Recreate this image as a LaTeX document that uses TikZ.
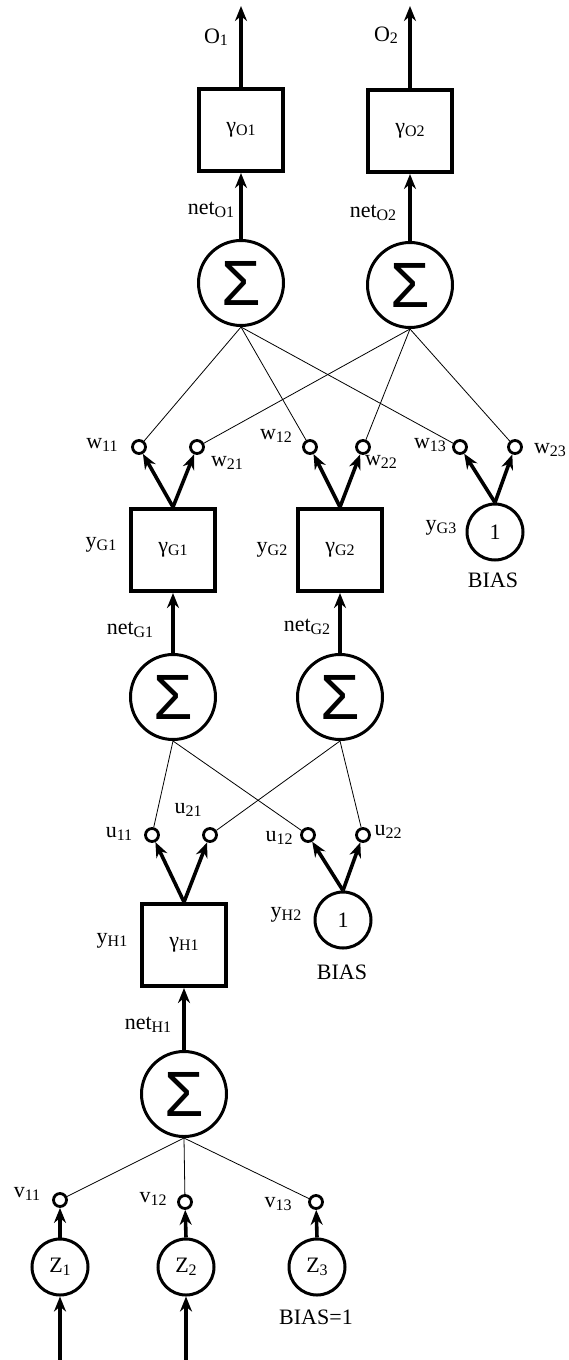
\documentclass[tikz,border=0pt]{standalone}
\usepackage{fontspec}
\setmainfont{Liberation Serif}
\newfontfamily\sigfont{Liberation Sans}
\usetikzlibrary{arrows.meta}
\newcommand\labfont{\fontsize{22}{24}\selectfont}
\newcommand\sub[1]{\raisebox{-2.5pt}{\fontsize{16}{16}\selectfont #1}}
\tikzset{
  sumnode/.style={circle,draw,line width=3pt,minimum size=85pt,inner sep=0pt,font=\sigfont\fontsize{64}{64}\selectfont},
  boxnode/.style={rectangle,draw,line width=4pt,minimum width=84pt,minimum height=82pt,inner sep=0pt,font=\labfont},
  wnode/.style={circle,draw,line width=2.8pt,minimum size=13pt,inner sep=0pt},
  onenode/.style={circle,draw,line width=3pt,minimum size=56pt,inner sep=0pt,font=\labfont},
  lab/.style={inner sep=0pt,font=\labfont},
  thickarr/.style={line width=3.6pt,-{Stealth[length=15pt,width=12pt]}},
  thinline/.style={line width=0.8pt}
}
\begin{document}
\begin{tikzpicture}[x=1pt,y=-1pt]
\useasboundingbox (0,0) rectangle (568,1360);
% ---- output layer
\node[boxnode] (bo1) at (241,130) {γ\sub{O1}};
\node[boxnode] (bo2) at (410,131) {γ\sub{O2}};
\coordinate (out1) at (241,6);
\coordinate (out2) at (410,6);
\node[lab] (lo1) at (216,37) {O\sub{1}};
\node[lab] (lo2) at (386,35) {O\sub{2}};
\node[sumnode] (so1) at (241,283) {Σ};
\node[sumnode] (so2) at (410,285) {Σ};
\node[lab] (lno1) at (211,210) {net\sub{O1}};
\node[lab] (lno2) at (373,213) {net\sub{O2}};
\draw[thickarr] (bo1.north) -- (out1);
\draw[thickarr] (bo2.north) -- (out2);
\draw[thickarr] (so1.north) -- (bo1.south);
\draw[thickarr] (so2.north) -- (bo2.south);
% ---- w weights
\node[wnode] (w11) at (139,447) {};
\node[wnode] (w21) at (197,447) {};
\node[wnode] (w12) at (310,447) {};
\node[wnode] (w22) at (363,447) {};
\node[wnode] (w13) at (460,447) {};
\node[wnode] (w23) at (515,447) {};
\node[lab] (lw11) at (102,445) {w\sub{11}};
\node[lab] (lw21) at (227,463) {w\sub{21}};
\node[lab] (lw12) at (276,436) {w\sub{12}};
\node[lab] (lw22) at (381,462) {w\sub{22}};
\node[lab] (lw13) at (430,445) {w\sub{13}};
\node[lab] (lw23) at (550,450) {w\sub{23}};
\draw[thinline] (so1.south) -- (w11);
\draw[thinline] (so1.south) -- (w12);
\draw[thinline] (so1.south) -- (w13);
\draw[thinline] (so2.south) -- (w21);
\draw[thinline] (so2.south) -- (w22);
\draw[thinline] (so2.south) -- (w23);
% ---- G layer
\node[boxnode] (bg1) at (173,550) {γ\sub{G1}};
\node[boxnode] (bg2) at (340,550) {γ\sub{G2}};
\node[onenode] (bg3) at (495,532) {1};
\node[lab] (lyg1) at (101,545) {y\sub{G1}};
\node[lab] (lyg2) at (272,550) {y\sub{G2}};
\node[lab] (lyg3) at (441,528) {y\sub{G3}};
\node[lab] (lbias1) at (493,580) {BIAS};
\draw[thickarr] (bg1.north) -- (w11);
\draw[thickarr] (bg1.north) -- (w21);
\draw[thickarr] (bg2.north) -- (w12);
\draw[thickarr] (bg2.north) -- (w22);
\draw[thickarr] (bg3.north) -- (w13);
\draw[thickarr] (bg3.north) -- (w23);
\node[sumnode] (sg1) at (173,697) {Σ};
\node[sumnode] (sg2) at (340,697) {Σ};
\node[lab] (lng1) at (130,630) {net\sub{G1}};
\node[lab] (lng2) at (307,627) {net\sub{G2}};
\draw[thickarr] (sg1.north) -- (bg1.south);
\draw[thickarr] (sg2.north) -- (bg2.south);
% ---- u weights
\node[wnode] (u11) at (152,835) {};
\node[wnode] (u21) at (210,835) {};
\node[wnode] (u12) at (308,835) {};
\node[wnode] (u22) at (363,835) {};
\node[lab] (lu11) at (119,834) {u\sub{11}};
\node[lab] (lu21) at (188,810) {u\sub{21}};
\node[lab] (lu12) at (279,838) {u\sub{12}};
\node[lab] (lu22) at (388,832) {u\sub{22}};
\draw[thinline] (sg1.south) -- (u11);
\draw[thinline] (sg1.south) -- (u12);
\draw[thinline] (sg2.south) -- (u21);
\draw[thinline] (sg2.south) -- (u22);
% ---- H layer
\node[boxnode] (bh1) at (184,945) {γ\sub{H1}};
\node[onenode] (bh2) at (343,920) {1};
\node[lab] (lyh1) at (112,941) {y\sub{H1}};
\node[lab] (lyh2) at (286,915) {y\sub{H2}};
\node[lab] (lbias2) at (342,972) {BIAS};
\draw[thickarr] (bh1.north) -- (u11);
\draw[thickarr] (bh1.north) -- (u21);
\draw[thickarr] (bh2.north) -- (u12);
\draw[thickarr] (bh2.north) -- (u22);
\node[sumnode] (sh1) at (184,1094) {Σ};
\node[lab] (lnh1) at (148,1025) {net\sub{H1}};
\draw[thickarr] (sh1.north) -- (bh1.south);
% ---- v weights and inputs
\node[wnode] (v11) at (60,1200) {};
\node[wnode] (v12) at (185,1202) {};
\node[wnode] (v13) at (316,1202) {};
\node[lab] (lv11) at (27,1194) {v\sub{11}};
\node[lab] (lv12) at (153,1199) {v\sub{12}};
\node[lab] (lv13) at (278,1204) {v\sub{13}};
\draw[thinline] (sh1.south) -- (v11);
\draw[thinline] (sh1.south) -- (v12);
\draw[thinline] (sh1.south) -- (v13);
\node[onenode] (z1) at (60,1267) {Z\sub{1}};
\node[onenode] (z2) at (186,1267) {Z\sub{2}};
\node[onenode] (z3) at (317,1267) {Z\sub{3}};
\node[lab] (lbias3) at (316,1317) {BIAS=1};
\draw[thickarr] (z1.north) -- (v11);
\draw[thickarr] (z2.north) -- (v12);
\draw[thickarr] (z3.north) -- (v13);
\coordinate (in1) at (60,1360);
\coordinate (in2) at (186,1360);
\draw[thickarr] (in1) -- (z1.south);
\draw[thickarr] (in2) -- (z2.south);
\end{tikzpicture}
\end{document}
